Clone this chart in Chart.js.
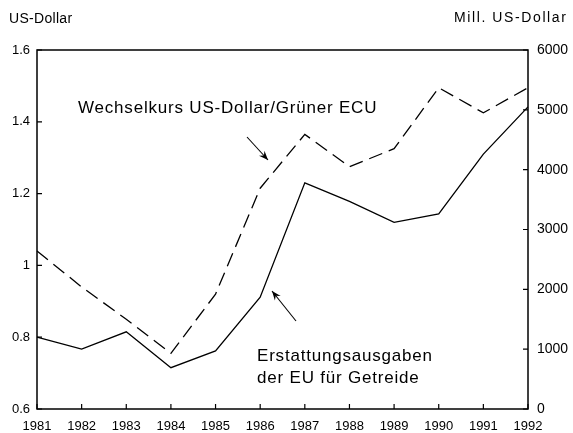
<!DOCTYPE html>
<html>
<head>
<meta charset="utf-8">
<script src="https://cdn.jsdelivr.net/npm/chart.js@4/dist/chart.umd.min.js"></script>
<style>
  html, body { margin: 0; padding: 0; background: #fff; }
  #wrap { width: 573px; height: 433px; }
</style>
</head>
<body>
<div id="wrap"><canvas id="chart" width="573" height="433"></canvas></div>
<script>
// ---------- Dati ----------
const years = ["1981", "1982", "1983", "1984", "1985", "1986", "1987", "1988", "1989", "1990", "1991", "1992"];
// Wechselkurs US-Dollar/Grüner ECU (linke Achse)
const wechselkurs = [1.04, 0.94, 0.85, 0.755, 0.92, 1.215, 1.365, 1.275, 1.325, 1.495, 1.425, 1.495];
// Erstattungsausgaben der EU für Getreide, Mill. US-Dollar (rechte Achse)
const erstattung = [1200, 1000, 1290, 690, 970, 1870, 3780, 3470, 3120, 3260, 4260, 5050];

const leftTicks = { min: 0.6, max: 1.6, step: 0.2 };
const rightTicks = { min: 0, max: 6000, step: 1000 };

const FONT = "'Liberation Sans', Arial, Helvetica, sans-serif";

// ---------- Plugin: Rahmen, Ticks nach innen, Beschriftungen ----------
function arrow(ctx, x1, y1, x2, y2) {
  ctx.beginPath();
  ctx.moveTo(x1, y1);
  ctx.lineTo(x2, y2);
  ctx.stroke();
  const a = Math.atan2(y2 - y1, x2 - x1);
  const len = 10, w = 0.38;
  ctx.beginPath();
  ctx.moveTo(x2, y2);
  ctx.lineTo(x2 - len * Math.cos(a - w), y2 - len * Math.sin(a - w));
  ctx.lineTo(x2 - len * 0.6 * Math.cos(a), y2 - len * 0.6 * Math.sin(a));
  ctx.lineTo(x2 - len * Math.cos(a + w), y2 - len * Math.sin(a + w));
  ctx.closePath();
  ctx.fill();
}

const decor = {
  id: "decor",
  afterDatasetsDraw(chart) {
    const { ctx, chartArea: ca, scales } = chart;
    ctx.save();
    ctx.strokeStyle = "#000";
    ctx.fillStyle = "#000";
    ctx.lineWidth = 1.5;
    ctx.strokeRect(ca.left, ca.top, ca.right - ca.left, ca.bottom - ca.top);

    // Ticks nach innen
    ctx.lineWidth = 1.2;
    ctx.beginPath();
    scales.y.ticks.forEach((t, i) => {
      const y = scales.y.getPixelForTick(i);
      ctx.moveTo(ca.left, y); ctx.lineTo(ca.left + 5, y);
    });
    scales.y2.ticks.forEach((t, i) => {
      const y = scales.y2.getPixelForTick(i);
      ctx.moveTo(ca.right, y); ctx.lineTo(ca.right - 5, y);
    });
    scales.x.ticks.forEach((t, i) => {
      const x = scales.x.getPixelForTick(i);
      ctx.moveTo(x, ca.bottom); ctx.lineTo(x, ca.bottom - 5);
    });
    ctx.stroke();

    // Achsentitel
    ctx.font = "14px " + FONT;
    ctx.textBaseline = "middle";
    ctx.textAlign = "left";
    ctx.letterSpacing = "0.3px";
    ctx.fillText("US-Dollar", 9, 19);
    ctx.letterSpacing = "1.6px";
    ctx.fillText("Mill. US-Dollar", 454, 18);

    // Beschriftungen
    ctx.font = "17px " + FONT;
    ctx.letterSpacing = "0.8px";
    ctx.fillText("Wechselkurs US-Dollar/Grüner ECU", 78, 108);
    ctx.fillText("Erstattungsausgaben", 257, 356);
    ctx.fillText("der EU für Getreide", 257, 378);
    ctx.letterSpacing = "0px";

    ctx.lineWidth = 1.1;
    arrow(ctx, 247, 137, 268, 160);
    arrow(ctx, 296, 321, 272, 291);
    ctx.restore();
  }
};

new Chart(document.getElementById("chart"), {
  type: "line",
  data: {
    labels: years,
    datasets: [
      {
        label: "Wechselkurs US-Dollar/Grüner ECU",
        data: wechselkurs,
        yAxisID: "y",
        borderColor: "#000",
        borderWidth: 1.3,
        borderDash: [14, 7],
        pointRadius: 0,
        tension: 0,
        fill: false,
      },
      {
        label: "Erstattungsausgaben der EU für Getreide",
        data: erstattung,
        yAxisID: "y2",
        borderColor: "#000",
        borderWidth: 1.3,
        pointRadius: 0,
        tension: 0,
        fill: false,
      },
    ],
  },
  options: {
    responsive: false,
    animation: false,
    devicePixelRatio: 1,
    layout: { padding: { top: 50, left: 0, right: 0, bottom: 0 } },
    plugins: { legend: { display: false }, tooltip: { enabled: false }, title: { display: false } },
    scales: {
      x: {
        offset: false,
        grid: { display: false, drawTicks: false },
        border: { display: false },
        ticks: { color: "#000", font: { family: FONT, size: 13 }, padding: 10, maxRotation: 0, autoSkip: false },
        afterFit: (s) => { s.height = 24; },
      },
      y: {
        position: "left",
        min: leftTicks.min,
        max: leftTicks.max,
        grid: { display: false, drawTicks: false },
        border: { display: false },
        ticks: {
          stepSize: leftTicks.step,
          color: "#000",
          font: { family: FONT, size: 13 },
          padding: 7,
          callback: (v) => String(+Number(v).toFixed(1)),
        },
        afterFit: (s) => { s.width = 37; },
      },
      y2: {
        position: "right",
        min: rightTicks.min,
        max: rightTicks.max,
        grid: { display: false, drawTicks: false },
        border: { display: false },
        ticks: {
          stepSize: rightTicks.step,
          color: "#000",
          font: { family: FONT, size: 14 },
          padding: 9,
          callback: (v) => String(v),
        },
        afterFit: (s) => { s.width = 45; },
      },
    },
  },
  plugins: [decor],
});
</script>
</body>
</html>
